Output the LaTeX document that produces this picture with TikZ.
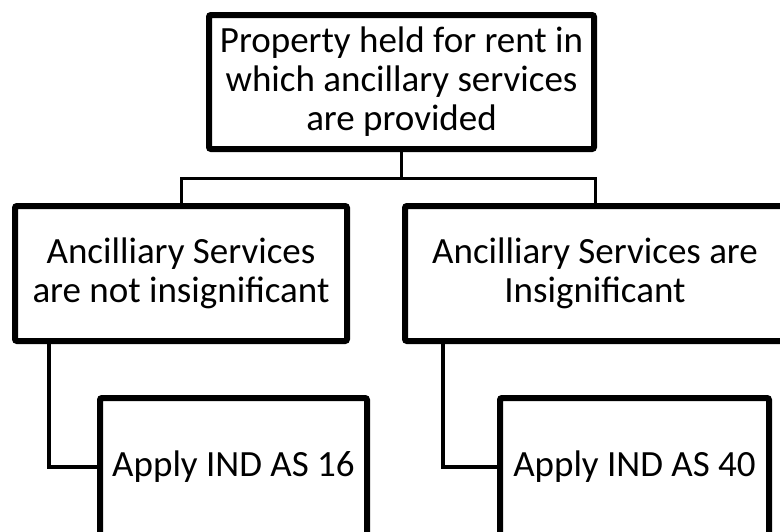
\documentclass[tikz,border=0pt]{standalone}
\usepackage{fontspec}
\setmainfont{Carlito}
\usepackage{xcolor}

\begin{document}
\begin{tikzpicture}[x=1pt, y=-1pt,
    box/.style={draw, line width=6pt, rounded corners=2pt, fill=white, align=center,
        font=\fontsize{37}{39}\selectfont, inner sep=0pt},
    link/.style={draw, line width=3pt},
    elbow/.style={draw, line width=4pt}]
\useasboundingbox (0, 0) rectangle (780, 531);
\clip (0, 0) rectangle (780, 531);
% boxes
\node [box, minimum width=385pt, minimum height=134pt] (prop) at (401.5, 82) {Property held for rent in\\which ancillary services\\are provided};
\node [box, minimum width=332pt, minimum height=135pt] (notins) at (181, 273.5) {Ancilliary Services\\are not insignificant};
\node [box, minimum width=380pt, minimum height=135pt] (ins) at (595, 273.5) {Ancilliary Services are\\Insignificant};
\node [box, minimum width=267pt, minimum height=138pt] (as16) at (233.5, 467) {Apply IND AS 16};
\node [box, minimum width=269pt, minimum height=138pt] (as40) at (634.5, 467) {Apply IND AS 40};
% connectors
\draw [link] (prop.south) -- ++(0, 26) coordinate (fork) -| (notins.north);
\draw [link] (fork) -| (ins.north);
\draw [elbow] ([xshift=37pt]notins.south west) |- (as16.west);
\draw [elbow] ([xshift=41pt]ins.south west) |- (as40.west);
\end{tikzpicture}
\end{document}
